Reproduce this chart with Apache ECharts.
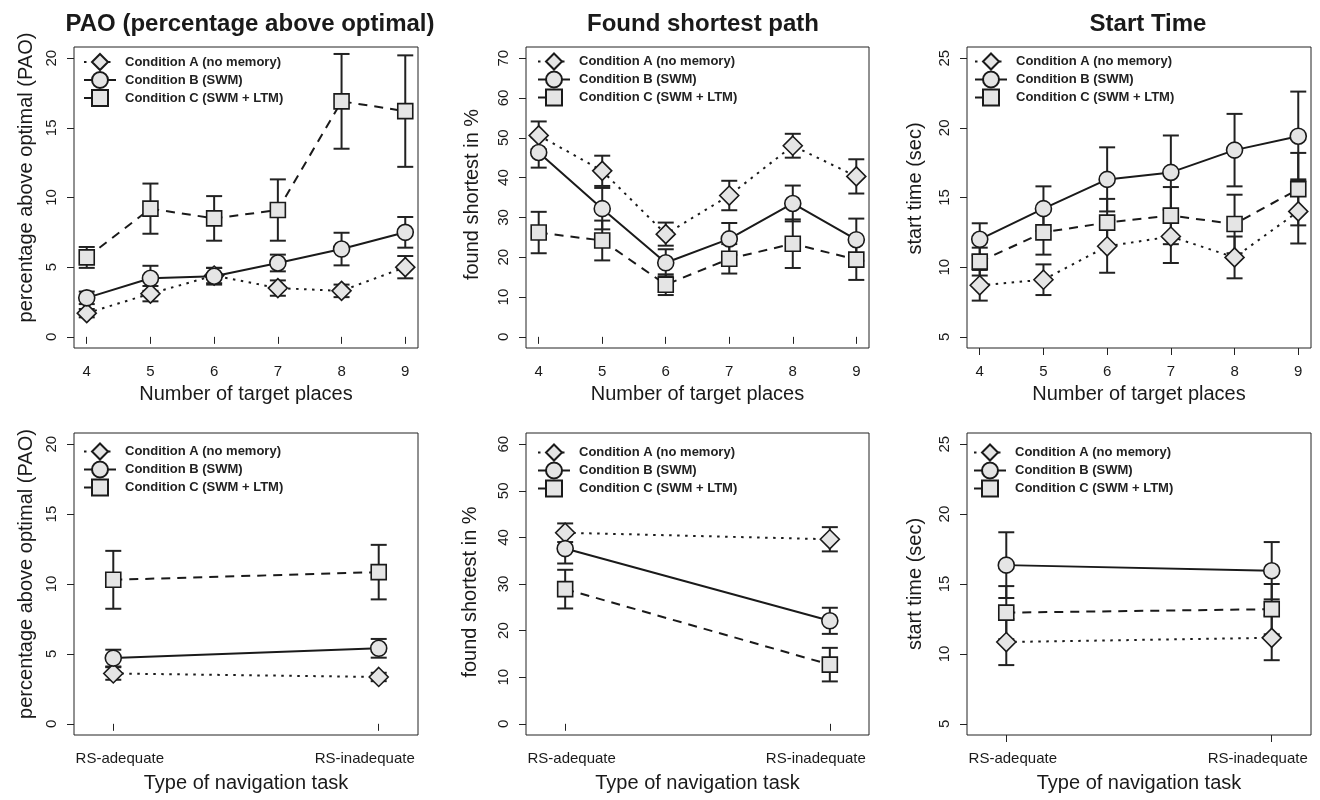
<!DOCTYPE html>
<html><head><meta charset="utf-8">
<script src="https://cdn.jsdelivr.net/npm/echarts@6/dist/echarts.min.js"></script>
<style>html,body{margin:0;padding:0;background:#fff}#c{width:1320px;height:800px}</style>
</head><body><div id="c"></div>
<script>
// ---------- categories / ticks ----------
const places = [4, 5, 6, 7, 8, 9];
const tasks = ['RS-adequate', 'RS-inadequate'];
const taskPos = [1, 2];
const condNames = ['Condition A (no memory)', 'Condition B (SWM)', 'Condition C (SWM + LTM)'];
const paoTicks = [0, 5, 10, 15, 20];
const shortTopTicks = [0, 10, 20, 30, 40, 50, 60, 70];
const shortBotTicks = [0, 10, 20, 30, 40, 50, 60];
const startTicks = [5, 10, 15, 20, 25];

// ---------- PAO by number of target places ----------
const paoA = [1.7, 3.1, 4.4, 3.5, 3.3, 5.0];
const paoAErr = [0.3, 0.55, 0.55, 0.55, 0.45, 0.8];
const paoB = [2.8, 4.2, 4.35, 5.3, 6.3, 7.5];
const paoBErr = [0.45, 0.9, 0.6, 0.6, 1.17, 1.1];
const paoC = [5.7, 9.2, 8.5, 9.1, 16.9, 16.2];
const paoCErr = [0.75, 1.8, 1.6, 2.2, 3.4, 4.0];

// ---------- Found shortest path by number of target places ----------
const shortA = [50.6, 41.7, 25.8, 35.5, 48.0, 40.3];
const shortAErr = [3.5, 3.8, 2.9, 3.7, 3.0, 4.3];
const shortB = [46.3, 32.2, 18.6, 24.6, 33.5, 24.4];
const shortBErr = [3.8, 5.2, 3.4, 4.0, 4.5, 5.3];
const shortC = [26.2, 24.2, 13.1, 19.6, 23.4, 19.4];
const shortCErr = [5.2, 5.0, 2.6, 3.7, 6.1, 5.1];

// ---------- Start time by number of target places ----------
const startA = [8.7, 9.1, 11.5, 12.2, 10.7, 14.0];
const startAErr = [1.1, 1.1, 1.9, 1.9, 1.5, 2.3];
const startB = [12.0, 14.2, 16.3, 16.8, 18.4, 19.4];
const startBErr = [1.15, 1.6, 2.3, 2.65, 2.6, 3.2];
const startC = [10.4, 12.5, 13.2, 13.7, 13.1, 15.6];
const startCErr = [1.0, 1.6, 1.7, 2.05, 2.1, 2.6];

// ---------- by type of navigation task ----------
const paoTaskA = [3.6, 3.35];
const paoTaskAErr = [0.45, 0.3];
const paoTaskB = [4.7, 5.4];
const paoTaskBErr = [0.6, 0.67];
const paoTaskC = [10.3, 10.85];
const paoTaskCErr = [2.07, 1.95];

const shortTaskA = [41.0, 39.6];
const shortTaskAErr = [2.0, 2.6];
const shortTaskB = [37.6, 22.1];
const shortTaskBErr = [3.2, 2.8];
const shortTaskC = [28.9, 12.7];
const shortTaskCErr = [4.15, 3.6];

const startTaskA = [10.85, 11.15];
const startTaskAErr = [1.65, 1.6];
const startTaskB = [16.35, 15.95];
const startTaskBErr = [2.35, 2.05];
const startTaskC = [12.95, 13.2];
const startTaskCErr = [1.9, 1.8];

// ---------- styling ----------
const F = '"Liberation Sans", Arial, Helvetica, sans-serif';
const INK = '#1a1a1a';
const FILL = '#e5e5e5';
const condStyle = [
  { symbol: 'diamond', size: 19, dash: [2.5, 5.5] },
  { symbol: 'circle', size: 16, dash: 'solid' },
  { symbol: 'rect', size: 15, dash: [9, 7] }
];

function rExpand(lo, hi) { const d = (hi - lo) * 0.04; return [lo - d, hi + d]; }

const grids = [
  { left: 74, top: 47, width: 344, height: 301 },
  { left: 526, top: 47, width: 343, height: 301 },
  { left: 967, top: 47, width: 344, height: 301 },
  { left: 74, top: 433, width: 344, height: 302 },
  { left: 526, top: 433, width: 343, height: 302 },
  { left: 967, top: 433, width: 344, height: 302 }
].map(g => Object.assign({ show: true, borderColor: '#222', borderWidth: 1, backgroundColor: 'transparent', containLabel: false }, g));

function xAxisFor(gi, isTask) {
  const ticks = isTask ? taskPos : places;
  const range = isTask ? rExpand(0.9, 2.1) : rExpand(places[0], places[places.length - 1]);
  return {
    type: 'value', gridIndex: gi, min: range[0], max: range[1],
    name: isTask ? 'Type of navigation task' : 'Number of target places',
    nameLocation: 'middle', nameGap: isTask ? 38 : 36,
    nameTextStyle: { fontSize: 20, color: INK, fontFamily: F },
    axisLine: { show: false },
    axisTick: { show: true, inside: false, length: 7, customValues: ticks, lineStyle: { color: '#222', width: 1 } },
    axisLabel: {
      show: true, customValues: ticks, margin: 16, fontSize: 15, color: INK, fontFamily: F,
      formatter: isTask ? (v => (v === 1 ? '{l|' + tasks[0] + '}' : '{r|' + tasks[1] + '}')) : (v => String(v)),
      rich: {
        l: { fontSize: 15, color: INK, fontFamily: F, padding: [0, 0, 0, 13] },
        r: { fontSize: 15, color: INK, fontFamily: F, padding: [0, 28, 0, 0] }
      }
    },
    splitLine: { show: false }
  };
}

function yAxisFor(gi, ticks, name, shiftUp, gap) {
  const range = rExpand(ticks[0], ticks[ticks.length - 1]);
  const pad = shiftUp >= 0 ? [0, 0, 0, 2 * shiftUp] : [0, -2 * shiftUp, 0, 0];
  return {
    type: 'value', gridIndex: gi, min: range[0], max: range[1],
    name: name, nameLocation: 'middle', nameGap: gap, nameRotate: 90,
    nameTextStyle: { fontSize: 20, color: INK, fontFamily: F, padding: pad },
    axisLine: { show: false },
    axisTick: { show: true, inside: false, length: 7, customValues: ticks, lineStyle: { color: '#222', width: 1 } },
    axisLabel: { show: true, customValues: ticks, rotate: 90, margin: 15, fontSize: 15, color: INK, fontFamily: F },
    splitLine: { show: false }
  };
}

function errRender(params, api) {
  const x = api.value(0), y = api.value(1), e = api.value(2);
  const t = api.coord([x, y + e]);
  const b = api.coord([x, y - e]);
  const hw = 8;
  const st = { stroke: '#222', lineWidth: 2 };
  return {
    type: 'group', children: [
      { type: 'line', shape: { x1: t[0], y1: t[1], x2: b[0], y2: b[1] }, style: st },
      { type: 'line', shape: { x1: t[0] - hw, y1: t[1], x2: t[0] + hw, y2: t[1] }, style: st },
      { type: 'line', shape: { x1: b[0] - hw, y1: b[1], x2: b[0] + hw, y2: b[1] }, style: st }
    ]
  };
}

const series = [];
function addPanel(gi, xs, sets) {
  sets.forEach((s, ci) => {
    const vals = s[0], errs = s[1];
    series.push({
      type: 'custom', xAxisIndex: gi, yAxisIndex: gi, renderItem: errRender,
      data: xs.map((x, i) => [x, vals[i], errs[i]]),
      encode: { x: 0, y: 1 }, z: 1, silent: true, animation: false
    });
  });
  sets.forEach((s, ci) => {
    const vals = s[0], cs = condStyle[ci];
    series.push({
      type: 'line', name: condNames[ci], xAxisIndex: gi, yAxisIndex: gi,
      data: xs.map((x, i) => [x, vals[i]]),
      symbol: cs.symbol, symbolSize: cs.size, showAllSymbol: true,
      lineStyle: { color: INK, width: 2, type: cs.dash },
      itemStyle: { color: FILL, borderColor: INK, borderWidth: 1.6 },
      emphasis: { disabled: true }, z: 3 + ci, animation: false, silent: true
    });
  });
}

addPanel(0, places, [[paoA, paoAErr], [paoB, paoBErr], [paoC, paoCErr]]);
addPanel(1, places, [[shortA, shortAErr], [shortB, shortBErr], [shortC, shortCErr]]);
addPanel(2, places, [[startA, startAErr], [startB, startBErr], [startC, startCErr]]);
addPanel(3, taskPos, [[paoTaskA, paoTaskAErr], [paoTaskB, paoTaskBErr], [paoTaskC, paoTaskCErr]]);
addPanel(4, taskPos, [[shortTaskA, shortTaskAErr], [shortTaskB, shortTaskBErr], [shortTaskC, shortTaskCErr]]);
addPanel(5, taskPos, [[startTaskA, startTaskAErr], [startTaskB, startTaskBErr], [startTaskC, startTaskCErr]]);

function legendAt(left, top) {
  return {
    left: left, top: top, orient: 'vertical', itemWidth: 32, itemHeight: 20, itemGap: 0, padding: 0,
    data: condNames, selectedMode: false,
    textStyle: { fontSize: 13, fontWeight: 'bold', color: '#222', fontFamily: F, padding: [0, 0, 0, 4] }
  };
}

const titleStyle = { fontSize: 24, fontWeight: 'bold', color: INK, fontFamily: F };

const option = {
  backgroundColor: '#fff',
  animation: false,
  title: [
    { text: 'PAO (percentage above optimal)', left: 250, top: 12, textAlign: 'center', padding: 0, textStyle: titleStyle },
    { text: 'Found shortest path', left: 703, top: 12, textAlign: 'center', padding: 0, textStyle: titleStyle },
    { text: 'Start Time', left: 1148, top: 12, textAlign: 'center', padding: 0, textStyle: titleStyle }
  ],
  legend: [legendAt(83, 53), legendAt(537, 52.5), legendAt(974, 52.5), legendAt(83, 442.5), legendAt(537, 443.5), legendAt(973, 443.5)],
  grid: grids,
  xAxis: [xAxisFor(0, false), xAxisFor(1, false), xAxisFor(2, false), xAxisFor(3, true), xAxisFor(4, true), xAxisFor(5, true)],
  yAxis: [
    yAxisFor(0, paoTicks, 'percentage above optimal (PAO)', 20, 38),
    yAxisFor(1, shortTopTicks, 'found shortest in %', 3, 44),
    yAxisFor(2, startTicks, 'start time (sec)', 9, 42),
    yAxisFor(3, paoTicks, 'percentage above optimal (PAO)', 10, 38),
    yAxisFor(4, shortBotTicks, 'found shortest in %', -8, 46),
    yAxisFor(5, startTicks, 'start time (sec)', 0, 42)
  ],
  series: series
};

const chart = echarts.init(document.getElementById('c'), null, { renderer: 'canvas' });
chart.setOption(option);
</script>
</body></html>
